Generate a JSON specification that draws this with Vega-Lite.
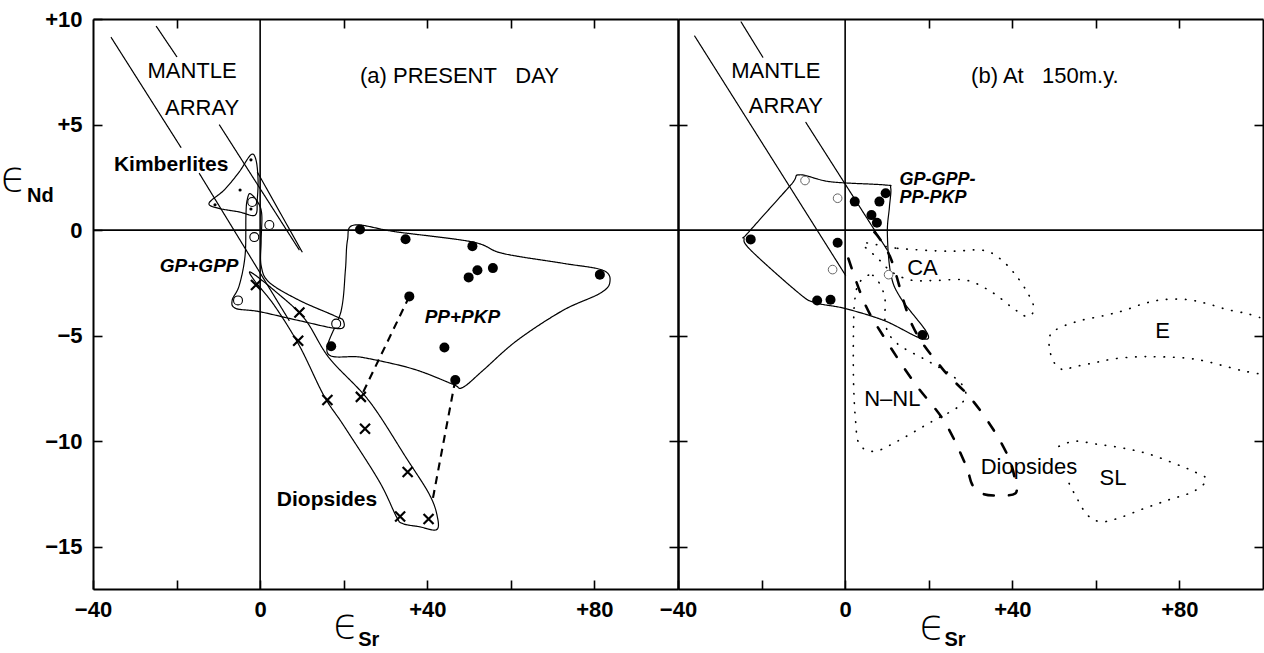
{
"$schema": "https://vega.github.io/schema/vega-lite/v6.json",
"padding": {"left": 0, "top": 8, "right": 0, "bottom": 0},
"spacing": 0,
"bounds": "flush",
"config": {
  "view": {"stroke": null},
  "axis": {"domainColor": "#000", "domainWidth": 2, "tickColor": "#000", "tickWidth": 1.6, "tickSize": -9, "labelColor": "#000", "labelFont": "Liberation Sans", "labelFontSize": 22, "labelFontWeight": "bold", "labelPadding": 9, "labelFlush": false, "labelOverlap": false, "grid": false, "minExtent": 0},
  "text": {"font": "Liberation Sans", "color": "#000"}
},
"datasets": {
  "a_closed": [
    {"g":"pp","s":"solid","o":1,"x":22.5,"y":0.24},{"g":"pp","s":"solid","o":2,"x":32.5,"y":-0.08},{"g":"pp","s":"solid","o":3,"x":50.8,"y":-0.56},{"g":"pp","s":"solid","o":4,"x":58.0,"y":-1.1},{"g":"pp","s":"solid","o":5,"x":72.4,"y":-1.57},{"g":"pp","s":"solid","o":6,"x":82.0,"y":-1.9},{"g":"pp","s":"solid","o":7,"x":83.7,"y":-2.46},{"g":"pp","s":"solid","o":8,"x":81.3,"y":-3.0},{"g":"pp","s":"solid","o":9,"x":72.4,"y":-3.81},{"g":"pp","s":"solid","o":10,"x":61.4,"y":-5.24},{"g":"pp","s":"solid","o":11,"x":53.2,"y":-6.67},{"g":"pp","s":"solid","o":12,"x":48.4,"y":-7.46},{"g":"pp","s":"solid","o":13,"x":46.0,"y":-7.29},{"g":"pp","s":"solid","o":14,"x":36.5,"y":-6.57},{"g":"pp","s":"solid","o":15,"x":24.5,"y":-6.03},{"g":"pp","s":"solid","o":16,"x":16.1,"y":-5.81},{"g":"pp","s":"solid","o":17,"x":19.4,"y":-3.81},{"g":"pp","s":"solid","o":18,"x":20.4,"y":-1.9},{"g":"pp","s":"solid","o":19,"x":20.9,"y":-0.48},
    {"g":"kim","s":"solid","o":1,"x":-12.2,"y":1.29},{"g":"kim","s":"solid","o":2,"x":-8.6,"y":1.9},{"g":"kim","s":"solid","o":3,"x":-5.0,"y":2.76},{"g":"kim","s":"solid","o":4,"x":-2.2,"y":3.57},{"g":"kim","s":"solid","o":5,"x":-1.0,"y":3.33},{"g":"kim","s":"solid","o":6,"x":-0.5,"y":2.38},{"g":"kim","s":"solid","o":7,"x":-0.7,"y":1.43},{"g":"kim","s":"solid","o":8,"x":-1.2,"y":0.71},{"g":"kim","s":"solid","o":9,"x":-5.0,"y":0.86},{"g":"kim","s":"solid","o":10,"x":-10.3,"y":1.05},
    {"g":"gp","s":"solid","o":1,"x":-2.2,"y":1.71},{"g":"gp","s":"solid","o":2,"x":0.24,"y":0.95},{"g":"gp","s":"solid","o":3,"x":0.24,"y":-0.48},{"g":"gp","s":"solid","o":4,"x":0.24,"y":-1.67},{"g":"gp","s":"solid","o":5,"x":2.2,"y":-2.48},{"g":"gp","s":"solid","o":6,"x":9.4,"y":-3.33},{"g":"gp","s":"solid","o":7,"x":17.7,"y":-4.05},{"g":"gp","s":"solid","o":8,"x":19.9,"y":-4.29},{"g":"gp","s":"solid","o":9,"x":18.9,"y":-4.67},{"g":"gp","s":"solid","o":10,"x":9.4,"y":-4.29},{"g":"gp","s":"solid","o":11,"x":-0.24,"y":-3.86},{"g":"gp","s":"solid","o":12,"x":-5.8,"y":-3.71},{"g":"gp","s":"solid","o":13,"x":-6.7,"y":-3.33},{"g":"gp","s":"solid","o":14,"x":-5.0,"y":-2.62},{"g":"gp","s":"solid","o":15,"x":-3.6,"y":-1.19},{"g":"gp","s":"solid","o":16,"x":-3.4,"y":0.71},{"g":"gp","s":"solid","o":17,"x":-3.1,"y":1.43},
    {"g":"di","s":"solid","o":1,"x":-2.2,"y":-2.0},{"g":"di","s":"solid","o":2,"x":3.4,"y":-2.86},{"g":"di","s":"solid","o":3,"x":10.6,"y":-4.19},{"g":"di","s":"solid","o":4,"x":16.5,"y":-6.05},{"g":"di","s":"solid","o":5,"x":26.1,"y":-8.1},{"g":"di","s":"solid","o":6,"x":35.0,"y":-10.8},{"g":"di","s":"solid","o":7,"x":40.5,"y":-12.52},{"g":"di","s":"solid","o":8,"x":42.4,"y":-13.57},{"g":"di","s":"solid","o":9,"x":42.2,"y":-14.19},{"g":"di","s":"solid","o":10,"x":38.1,"y":-14.05},{"g":"di","s":"solid","o":11,"x":34.1,"y":-13.9},{"g":"di","s":"solid","o":12,"x":32.6,"y":-13.57},{"g":"di","s":"solid","o":13,"x":28.5,"y":-11.9},{"g":"di","s":"solid","o":14,"x":20.1,"y":-9.29},{"g":"di","s":"solid","o":15,"x":15.3,"y":-7.86},{"g":"di","s":"solid","o":16,"x":9.4,"y":-5.48},{"g":"di","s":"solid","o":17,"x":3.4,"y":-3.57},{"g":"di","s":"solid","o":18,"x":-1.4,"y":-2.38}
  ],
  "a_open": [
    {"g":"L1a","s":"solid","o":1,"x":-35.7,"y":9.14},{"g":"L1a","s":"solid","o":2,"x":-18.9,"y":3.9},
    {"g":"L1b","s":"solid","o":1,"x":-14.6,"y":2.7},{"g":"L1b","s":"solid","o":2,"x":7.0,"y":-4.3},
    {"g":"L2a","s":"solid","o":1,"x":-24.9,"y":9.67},{"g":"L2a","s":"solid","o":2,"x":-19.9,"y":8.2},
    {"g":"L2b","s":"solid","o":1,"x":-9.8,"y":5.0},{"g":"L2b","s":"solid","o":2,"x":9.4,"y":-0.95},
    {"g":"K2","s":"solid","o":1,"x":-0.7,"y":2.76},{"g":"K2","s":"solid","o":2,"x":10.1,"y":-1.05},
    {"g":"T1","s":"dash","o":1,"x":35.7,"y":-3.14},{"g":"T1","s":"dash","o":2,"x":24.1,"y":-7.9},
    {"g":"T2","s":"dash","o":1,"x":46.7,"y":-7.1},{"g":"T2","s":"dash","o":2,"x":41.2,"y":-12.86}
  ],
  "a_pts": [
    {"k":"F","x":23.9,"y":0.03},{"k":"F","x":34.8,"y":-0.43},{"k":"F","x":50.8,"y":-0.76},{"k":"F","x":52.0,"y":-1.9},{"k":"F","x":49.9,"y":-2.24},{"k":"F","x":55.7,"y":-1.8},{"k":"F","x":81.3,"y":-2.11},{"k":"F","x":35.7,"y":-3.14},{"k":"F","x":44.1,"y":-5.56},{"k":"F","x":46.7,"y":-7.1},{"k":"F","x":17.0,"y":-5.5},
    {"k":"O","x":-1.9,"y":1.33},{"k":"O","x":2.2,"y":0.24},{"k":"O","x":-1.4,"y":-0.33},{"k":"O","x":-5.3,"y":-3.33},{"k":"O","x":18.2,"y":-4.43},
    {"k":"X","x":-1.0,"y":-2.6},{"k":"X","x":9.4,"y":-3.9},{"k":"X","x":9.1,"y":-5.24},{"k":"X","x":16.1,"y":-8.05},{"k":"X","x":24.1,"y":-7.9},{"k":"X","x":25.1,"y":-9.41},{"k":"X","x":35.3,"y":-11.46},{"k":"X","x":33.5,"y":-13.57},{"k":"X","x":40.3,"y":-13.68},
    {"k":"D","x":-2.2,"y":3.33},{"k":"D","x":-4.8,"y":1.9},{"k":"D","x":-10.8,"y":1.2},{"k":"D","x":-2.2,"y":1.0}
  ],
  "a_text": [
    {"w":"n","t":"MANTLE","x":-16.3,"y":7.52},{"w":"n","t":"ARRAY","x":-13.9,"y":5.8},{"w":"n","t":"(a) PRESENT\u00a0\u00a0\u00a0DAY","x":47.7,"y":7.3},
    {"w":"b","t":"Kimberlites","x":-21.3,"y":3.1},{"w":"b","t":"Diopsides","x":16.0,"y":-12.8},
    {"w":"bi","t":"GP+GPP","x":-14.6,"y":-1.71},{"w":"bi","t":"PP+PKP","x":48.4,"y":-4.1}
  ],
  "b_closed": [
    {"g":"env","s":"solid","o":1,"x":-10.9,"y":2.62},{"g":"env","s":"solid","o":2,"x":-3.5,"y":2.29},{"g":"env","s":"solid","o":3,"x":9.4,"y":2.14},{"g":"env","s":"solid","o":4,"x":10.9,"y":2.0},{"g":"env","s":"solid","o":5,"x":10.6,"y":1.1},{"g":"env","s":"solid","o":6,"x":10.1,"y":-0.14},{"g":"env","s":"solid","o":7,"x":10.9,"y":-2.05},{"g":"env","s":"solid","o":8,"x":13.2,"y":-3.19},{"g":"env","s":"solid","o":9,"x":19.7,"y":-4.9},{"g":"env","s":"solid","o":10,"x":17.8,"y":-5.1},{"g":"env","s":"solid","o":11,"x":9.4,"y":-4.29},{"g":"env","s":"solid","o":12,"x":-0.1,"y":-3.71},{"g":"env","s":"solid","o":13,"x":-7.3,"y":-3.43},{"g":"env","s":"solid","o":14,"x":-11.3,"y":-2.95},{"g":"env","s":"solid","o":15,"x":-22.6,"y":-0.95},{"g":"env","s":"solid","o":16,"x":-24.2,"y":-0.38},{"g":"env","s":"solid","o":17,"x":-23.3,"y":-0.14},{"g":"env","s":"solid","o":18,"x":-13.0,"y":2.14},
    {"g":"CA","s":"dot","o":1,"x":4.4,"y":-0.62},{"g":"CA","s":"dot","o":2,"x":12.5,"y":-0.86},{"g":"CA","s":"dot","o":3,"x":24.5,"y":-1.0},{"g":"CA","s":"dot","o":4,"x":32.8,"y":-0.95},{"g":"CA","s":"dot","o":5,"x":36.9,"y":-1.33},{"g":"CA","s":"dot","o":6,"x":40.5,"y":-2.05},{"g":"CA","s":"dot","o":7,"x":43.6,"y":-2.95},{"g":"CA","s":"dot","o":8,"x":45.2,"y":-3.71},{"g":"CA","s":"dot","o":9,"x":43.6,"y":-4.1},{"g":"CA","s":"dot","o":10,"x":40.0,"y":-3.67},{"g":"CA","s":"dot","o":11,"x":35.2,"y":-2.95},{"g":"CA","s":"dot","o":12,"x":29.2,"y":-2.38},{"g":"CA","s":"dot","o":13,"x":22.1,"y":-2.38},{"g":"CA","s":"dot","o":14,"x":16.1,"y":-2.38},{"g":"CA","s":"dot","o":15,"x":11.3,"y":-2.0},{"g":"CA","s":"dot","o":16,"x":7.8,"y":-1.33},
    {"g":"NNL","s":"dot","o":1,"x":3.4,"y":-2.48},{"g":"NNL","s":"dot","o":2,"x":6.6,"y":-2.14},{"g":"NNL","s":"dot","o":3,"x":9.4,"y":-3.1},{"g":"NNL","s":"dot","o":4,"x":9.7,"y":-4.52},{"g":"NNL","s":"dot","o":5,"x":12.5,"y":-5.38},{"g":"NNL","s":"dot","o":6,"x":19.7,"y":-6.19},{"g":"NNL","s":"dot","o":7,"x":25.7,"y":-6.9},{"g":"NNL","s":"dot","o":8,"x":28.8,"y":-7.62},{"g":"NNL","s":"dot","o":9,"x":27.3,"y":-8.33},{"g":"NNL","s":"dot","o":10,"x":20.9,"y":-9.05},{"g":"NNL","s":"dot","o":11,"x":12.5,"y":-10.0},{"g":"NNL","s":"dot","o":12,"x":7.0,"y":-10.48},{"g":"NNL","s":"dot","o":13,"x":3.4,"y":-10.14},{"g":"NNL","s":"dot","o":14,"x":2.5,"y":-9.05},{"g":"NNL","s":"dot","o":15,"x":2.0,"y":-7.14},{"g":"NNL","s":"dot","o":16,"x":2.0,"y":-4.76},{"g":"NNL","s":"dot","o":17,"x":2.3,"y":-3.33}
  ],
  "b_open": [
    {"g":"L1","s":"solid","o":1,"x":-36.0,"y":9.19},{"g":"L1","s":"solid","o":2,"x":0.1,"y":-2.14},
    {"g":"L2a","s":"solid","o":1,"x":-24.9,"y":9.86},{"g":"L2a","s":"solid","o":2,"x":-19.7,"y":8.19},
    {"g":"L2b","s":"solid","o":1,"x":-9.4,"y":5.1},{"g":"L2b","s":"solid","o":2,"x":10.1,"y":-0.95},
    {"g":"E","s":"dot","o":1,"x":99.2,"y":-4.14},{"g":"E","s":"dot","o":2,"x":96.1,"y":-3.95},{"g":"E","s":"dot","o":3,"x":91.4,"y":-3.76},{"g":"E","s":"dot","o":4,"x":86.6,"y":-3.48},{"g":"E","s":"dot","o":5,"x":81.8,"y":-3.29},{"g":"E","s":"dot","o":6,"x":76.3,"y":-3.29},{"g":"E","s":"dot","o":7,"x":71.5,"y":-3.48},{"g":"E","s":"dot","o":8,"x":66.7,"y":-3.81},{"g":"E","s":"dot","o":9,"x":61.9,"y":-4.05},{"g":"E","s":"dot","o":10,"x":56.2,"y":-4.29},{"g":"E","s":"dot","o":11,"x":51.4,"y":-4.62},{"g":"E","s":"dot","o":12,"x":49.0,"y":-5.0},{"g":"E","s":"dot","o":13,"x":49.0,"y":-5.71},{"g":"E","s":"dot","o":14,"x":50.2,"y":-6.33},{"g":"E","s":"dot","o":15,"x":52.3,"y":-6.62},{"g":"E","s":"dot","o":16,"x":54.7,"y":-6.48},{"g":"E","s":"dot","o":17,"x":59.5,"y":-6.29},{"g":"E","s":"dot","o":18,"x":64.3,"y":-6.1},{"g":"E","s":"dot","o":19,"x":69.8,"y":-6.0},{"g":"E","s":"dot","o":20,"x":74.6,"y":-6.0},{"g":"E","s":"dot","o":21,"x":81.0,"y":-6.05},{"g":"E","s":"dot","o":22,"x":85.8,"y":-6.19},{"g":"E","s":"dot","o":23,"x":90.6,"y":-6.43},{"g":"E","s":"dot","o":24,"x":95.3,"y":-6.67},{"g":"E","s":"dot","o":25,"x":99.2,"y":-6.81},
    {"g":"SL","s":"dot","o":1,"x":53.6,"y":-12.0},{"g":"SL","s":"dot","o":2,"x":55.5,"y":-12.71},{"g":"SL","s":"dot","o":3,"x":57.9,"y":-13.48},{"g":"SL","s":"dot","o":4,"x":61.0,"y":-13.81},{"g":"SL","s":"dot","o":5,"x":65.0,"y":-13.67},{"g":"SL","s":"dot","o":6,"x":71.5,"y":-13.19},{"g":"SL","s":"dot","o":7,"x":77.7,"y":-12.76},{"g":"SL","s":"dot","o":8,"x":83.4,"y":-12.38},{"g":"SL","s":"dot","o":9,"x":86.5,"y":-11.81},{"g":"SL","s":"dot","o":10,"x":83.4,"y":-11.43},{"g":"SL","s":"dot","o":11,"x":79.4,"y":-11.1},{"g":"SL","s":"dot","o":12,"x":72.9,"y":-10.62},{"g":"SL","s":"dot","o":13,"x":66.7,"y":-10.33},{"g":"SL","s":"dot","o":14,"x":60.3,"y":-10.14},{"g":"SL","s":"dot","o":15,"x":54.8,"y":-10.0},{"g":"SL","s":"dot","o":16,"x":50.7,"y":-10.29},
    {"g":"Dio","s":"long","o":1,"x":7.0,"y":-0.1},{"g":"Dio","s":"long","o":2,"x":10.9,"y":-1.33},{"g":"Dio","s":"long","o":3,"x":16.1,"y":-4.52},{"g":"Dio","s":"long","o":4,"x":23.3,"y":-6.57},{"g":"Dio","s":"long","o":5,"x":30.0,"y":-7.95},{"g":"Dio","s":"long","o":6,"x":35.7,"y":-9.52},{"g":"Dio","s":"long","o":7,"x":39.3,"y":-10.86},{"g":"Dio","s":"long","o":8,"x":40.7,"y":-11.9},{"g":"Dio","s":"long","o":9,"x":40.7,"y":-12.48},{"g":"Dio","s":"long","o":10,"x":36.4,"y":-12.57},{"g":"Dio","s":"long","o":11,"x":32.8,"y":-12.48},{"g":"Dio","s":"long","o":12,"x":30.4,"y":-12.05},{"g":"Dio","s":"long","o":13,"x":28.8,"y":-11.1},{"g":"Dio","s":"long","o":14,"x":23.7,"y":-9.05},{"g":"Dio","s":"long","o":15,"x":16.6,"y":-7.24},{"g":"Dio","s":"long","o":16,"x":9.4,"y":-5.1},{"g":"Dio","s":"long","o":17,"x":4.7,"y":-3.48},{"g":"Dio","s":"long","o":18,"x":0.6,"y":-1.24}
  ],
  "b_pts": [
    {"k":"O","x":-9.6,"y":2.35},{"k":"O","x":-1.8,"y":1.51},{"k":"O","x":-3.0,"y":-1.87},{"k":"O","x":10.4,"y":-2.11},
    {"k":"F","x":2.3,"y":1.35},{"k":"F","x":8.2,"y":1.35},{"k":"F","x":9.7,"y":1.75},{"k":"F","x":6.3,"y":0.71},{"k":"F","x":7.6,"y":0.35},{"k":"F","x":-22.6,"y":-0.44},{"k":"F","x":-1.8,"y":-0.6},{"k":"F","x":-6.7,"y":-3.33},{"k":"F","x":-3.5,"y":-3.3},{"k":"F","x":18.5,"y":-4.97}
  ],
  "b_text": [
    {"w":"n","t":"MANTLE","x":-16.6,"y":7.52},{"w":"n","t":"ARRAY","x":-14.2,"y":5.9},{"w":"n","t":"(b) At\u00a0\u00a0\u00a0150m.y.","x":47.8,"y":7.29},
    {"w":"n","t":"CA","x":18.5,"y":-1.81},{"w":"n","t":"N–NL","x":11.3,"y":-8.0},{"w":"n","t":"E","x":76.0,"y":-4.76},{"w":"n","t":"SL","x":64.1,"y":-11.76},{"w":"n","t":"Diopsides","x":44.0,"y":-11.2},
    {"w":"bil","t":"GP-GPP-","x":13.0,"y":2.38},{"w":"bil","t":"PP-PKP","x":13.0,"y":1.52}
  ],
  "zero": [{"v":0}],
  "a_titles": [{"t":"ϵ","x":-59,"y":2.45,"k":"eps"},{"t":"Nd","x":-52.6,"y":1.6,"k":"sub"},{"t":"ϵ","x":20.6,"y":-18.7,"k":"eps"},{"t":"Sr","x":26.0,"y":-19.4,"k":"sub"}],
  "b_titles": [{"t":"ϵ","x":20.9,"y":-18.75,"k":"eps"},{"t":"Sr","x":26.3,"y":-19.4,"k":"sub"}]
},
"hconcat": [
  {
    "width": 585, "height": 570,
    "resolve": {"axis": {"x": "independent", "y": "independent"}},
    "layer": [
      {"data": {"name": "a_closed"},
       "mark": {"type": "line", "interpolate": "cardinal-closed", "color": "#000", "strokeCap": "round"},
       "encoding": {
         "x": {"field": "x", "type": "quantitative", "scale": {"domain": [-40, 100], "nice": false, "zero": false}, "axis": {"orient": "bottom", "title": null, "labelPadding": 19, "values": [-40,-20,0,20,40,60,80], "labelExpr": "datum.value % 40 != 0 ? '' : datum.value > 0 ? '+' + datum.value : datum.value < 0 ? '−' + (-datum.value) : '0'"}},
         "y": {"field": "y", "type": "quantitative", "scale": {"domain": [-17, 10], "nice": false, "zero": false}, "axis": {"orient": "left", "title": null, "labelPadding": 20, "values": [-15,-10,-5,0,5,10], "labelExpr": "datum.value > 0 ? '+' + datum.value : datum.value < 0 ? '−' + (-datum.value) : '0'"}},
         "detail": {"field": "g"}, "order": {"field": "o"},
         "strokeDash": {"field": "s", "type": "nominal", "scale": {"domain": ["solid","dot","dash","long"], "range": [[1,0],[0.5,9],[8,6],[10,15]]}, "legend": null},
         "strokeWidth": {"field": "s", "type": "nominal", "scale": {"domain": ["solid","dot","dash","long"], "range": [1.2,2.6,1.3,1.1]}, "legend": null}
       }},
      {"data": {"name": "a_open"},
       "mark": {"type": "line", "interpolate": "linear", "color": "#000", "strokeCap": "butt"},
       "encoding": {
         "x": {"field": "x", "type": "quantitative", "axis": {"orient": "top", "title": null, "values": [-20,20,40,60,80], "labels": false}},
         "y": {"field": "y", "type": "quantitative", "axis": {"orient": "right", "title": null, "values": [-15,-10,-5,5], "labels": false}},
         "detail": {"field": "g"}, "order": {"field": "o"},
         "strokeDash": {"field": "s", "type": "nominal", "legend": null},
         "strokeWidth": {"field": "s", "type": "nominal", "legend": null}
       }},
      {"data": {"name": "zero"}, "mark": {"type": "rule", "color": "#000", "strokeWidth": 1.6}, "encoding": {"x": {"field": "v", "type": "quantitative", "axis": null}}},
      {"data": {"name": "zero"}, "mark": {"type": "rule", "color": "#000", "strokeWidth": 1.6}, "encoding": {"y": {"field": "v", "type": "quantitative", "axis": null}}},
      {"data": {"name": "a_pts"}, "transform": [{"filter": "datum.k == 'F'"}], "mark": {"type": "point", "shape": "circle", "filled": true, "color": "#000", "size": 100, "opacity": 1}, "encoding": {"x": {"field": "x", "type": "quantitative", "axis": null}, "y": {"field": "y", "type": "quantitative", "axis": null}}},
      {"data": {"name": "a_pts"}, "transform": [{"filter": "datum.k == 'O'"}], "mark": {"type": "point", "shape": "circle", "filled": false, "color": "#000", "size": 80, "strokeWidth": 1.1, "fill": "#fff", "fillOpacity": 1, "opacity": 1}, "encoding": {"x": {"field": "x", "type": "quantitative", "axis": null}, "y": {"field": "y", "type": "quantitative", "axis": null}}},
      {"data": {"name": "a_pts"}, "transform": [{"filter": "datum.k == 'X'"}], "mark": {"type": "point", "shape": "M-1,-1L1,1M1,-1L-1,1", "filled": false, "color": "#000", "size": 100, "strokeWidth": 2.2, "opacity": 1}, "encoding": {"x": {"field": "x", "type": "quantitative", "axis": null}, "y": {"field": "y", "type": "quantitative", "axis": null}}},
      {"data": {"name": "a_pts"}, "transform": [{"filter": "datum.k == 'D'"}], "mark": {"type": "point", "shape": "circle", "filled": true, "color": "#000", "size": 10, "opacity": 1}, "encoding": {"x": {"field": "x", "type": "quantitative", "axis": null}, "y": {"field": "y", "type": "quantitative", "axis": null}}},
      {"data": {"name": "a_text"}, "transform": [{"filter": "datum.w == 'n'"}], "mark": {"type": "text", "fontSize": 22, "fontWeight": "normal", "baseline": "middle", "align": "center"}, "encoding": {"x": {"field": "x", "type": "quantitative", "axis": null}, "y": {"field": "y", "type": "quantitative", "axis": null}, "text": {"field": "t"}}},
      {"data": {"name": "a_text"}, "transform": [{"filter": "datum.w == 'b'"}], "mark": {"type": "text", "fontSize": 21, "fontWeight": "bold", "baseline": "middle", "align": "center"}, "encoding": {"x": {"field": "x", "type": "quantitative", "axis": null}, "y": {"field": "y", "type": "quantitative", "axis": null}, "text": {"field": "t"}}},
      {"data": {"name": "a_text"}, "transform": [{"filter": "datum.w == 'bi'"}], "mark": {"type": "text", "fontSize": 19, "fontWeight": "bold", "fontStyle": "italic", "baseline": "middle", "align": "center"}, "encoding": {"x": {"field": "x", "type": "quantitative", "axis": null}, "y": {"field": "y", "type": "quantitative", "axis": null}, "text": {"field": "t"}}},
      {"data": {"name": "a_titles"}, "transform": [{"filter": "datum.k == 'eps'"}], "mark": {"type": "text", "font": "DejaVu Sans", "fontSize": 42, "fontWeight": 200, "baseline": "middle", "align": "center"}, "encoding": {"x": {"field": "x", "type": "quantitative", "axis": null}, "y": {"field": "y", "type": "quantitative", "axis": null}, "text": {"field": "t"}}},
      {"data": {"name": "a_titles"}, "transform": [{"filter": "datum.k == 'sub'"}], "mark": {"type": "text", "fontSize": 20, "fontWeight": "bold", "baseline": "middle", "align": "center"}, "encoding": {"x": {"field": "x", "type": "quantitative", "axis": null}, "y": {"field": "y", "type": "quantitative", "axis": null}, "text": {"field": "t"}}}
    ]
  },
  {
    "width": 585, "height": 570,
    "resolve": {"axis": {"x": "independent", "y": "independent"}},
    "layer": [
      {"data": {"name": "b_closed"},
       "mark": {"type": "line", "interpolate": "cardinal-closed", "color": "#000", "strokeCap": "round"},
       "encoding": {
         "x": {"field": "x", "type": "quantitative", "scale": {"domain": [-40, 100], "nice": false, "zero": false}, "axis": {"orient": "bottom", "title": null, "labelPadding": 19, "values": [-40,-20,0,20,40,60,80], "labelExpr": "datum.value % 40 != 0 ? '' : datum.value > 0 ? '+' + datum.value : datum.value < 0 ? '−' + (-datum.value) : '0'"}},
         "y": {"field": "y", "type": "quantitative", "scale": {"domain": [-17, 10], "nice": false, "zero": false}, "axis": {"orient": "left", "title": null, "values": [-15,-10,-5,5], "labels": false}},
         "detail": {"field": "g"}, "order": {"field": "o"},
         "strokeDash": {"field": "s", "type": "nominal", "scale": {"domain": ["solid","dot","dash","long"], "range": [[1,0],[0.5,9],[8,6],[10,15]]}, "legend": null},
         "strokeWidth": {"field": "s", "type": "nominal", "scale": {"domain": ["solid","dot","dash","long"], "range": [1.2,2.6,1.3,1.1]}, "legend": null}
       }},
      {"data": {"name": "b_open"},
       "mark": {"type": "line", "interpolate": "cardinal", "color": "#000", "strokeCap": "round", "clip": true},
       "encoding": {
         "x": {"field": "x", "type": "quantitative", "axis": {"orient": "top", "title": null, "values": [20,40,60,80], "labels": false}},
         "y": {"field": "y", "type": "quantitative", "axis": {"orient": "right", "title": null, "values": [-15,-10,-5,5], "labels": false}},
         "detail": {"field": "g"}, "order": {"field": "o"},
         "strokeDash": {"field": "s", "type": "nominal", "legend": null},
         "strokeWidth": {"field": "s", "type": "nominal", "legend": null}
       }},
      {"data": {"name": "zero"}, "mark": {"type": "rule", "color": "#000", "strokeWidth": 1.6}, "encoding": {"x": {"field": "v", "type": "quantitative", "axis": null}}},
      {"data": {"name": "zero"}, "mark": {"type": "rule", "color": "#000", "strokeWidth": 1.6}, "encoding": {"y": {"field": "v", "type": "quantitative", "axis": null}}},
      {"data": {"name": "b_pts"}, "transform": [{"filter": "datum.k == 'F'"}], "mark": {"type": "point", "shape": "circle", "filled": true, "color": "#000", "size": 100, "opacity": 1}, "encoding": {"x": {"field": "x", "type": "quantitative", "axis": null}, "y": {"field": "y", "type": "quantitative", "axis": null}}},
      {"data": {"name": "b_pts"}, "transform": [{"filter": "datum.k == 'O'"}], "mark": {"type": "point", "shape": "circle", "filled": false, "color": "#666", "size": 75, "strokeWidth": 1, "fill": "#fff", "fillOpacity": 1, "opacity": 1}, "encoding": {"x": {"field": "x", "type": "quantitative", "axis": null}, "y": {"field": "y", "type": "quantitative", "axis": null}}},
      {"data": {"name": "b_text"}, "transform": [{"filter": "datum.w == 'n'"}], "mark": {"type": "text", "fontSize": 22, "fontWeight": "normal", "baseline": "middle", "align": "center"}, "encoding": {"x": {"field": "x", "type": "quantitative", "axis": null}, "y": {"field": "y", "type": "quantitative", "axis": null}, "text": {"field": "t"}}},
      {"data": {"name": "b_text"}, "transform": [{"filter": "datum.w == 'bil'"}], "mark": {"type": "text", "fontSize": 18, "fontWeight": "bold", "fontStyle": "italic", "baseline": "middle", "align": "left"}, "encoding": {"x": {"field": "x", "type": "quantitative", "axis": null}, "y": {"field": "y", "type": "quantitative", "axis": null}, "text": {"field": "t"}}},
      {"data": {"name": "b_titles"}, "transform": [{"filter": "datum.k == 'eps'"}], "mark": {"type": "text", "font": "DejaVu Sans", "fontSize": 42, "fontWeight": 200, "baseline": "middle", "align": "center"}, "encoding": {"x": {"field": "x", "type": "quantitative", "axis": null}, "y": {"field": "y", "type": "quantitative", "axis": null}, "text": {"field": "t"}}},
      {"data": {"name": "b_titles"}, "transform": [{"filter": "datum.k == 'sub'"}], "mark": {"type": "text", "fontSize": 20, "fontWeight": "bold", "baseline": "middle", "align": "center"}, "encoding": {"x": {"field": "x", "type": "quantitative", "axis": null}, "y": {"field": "y", "type": "quantitative", "axis": null}, "text": {"field": "t"}}}
    ]
  }
]
}
